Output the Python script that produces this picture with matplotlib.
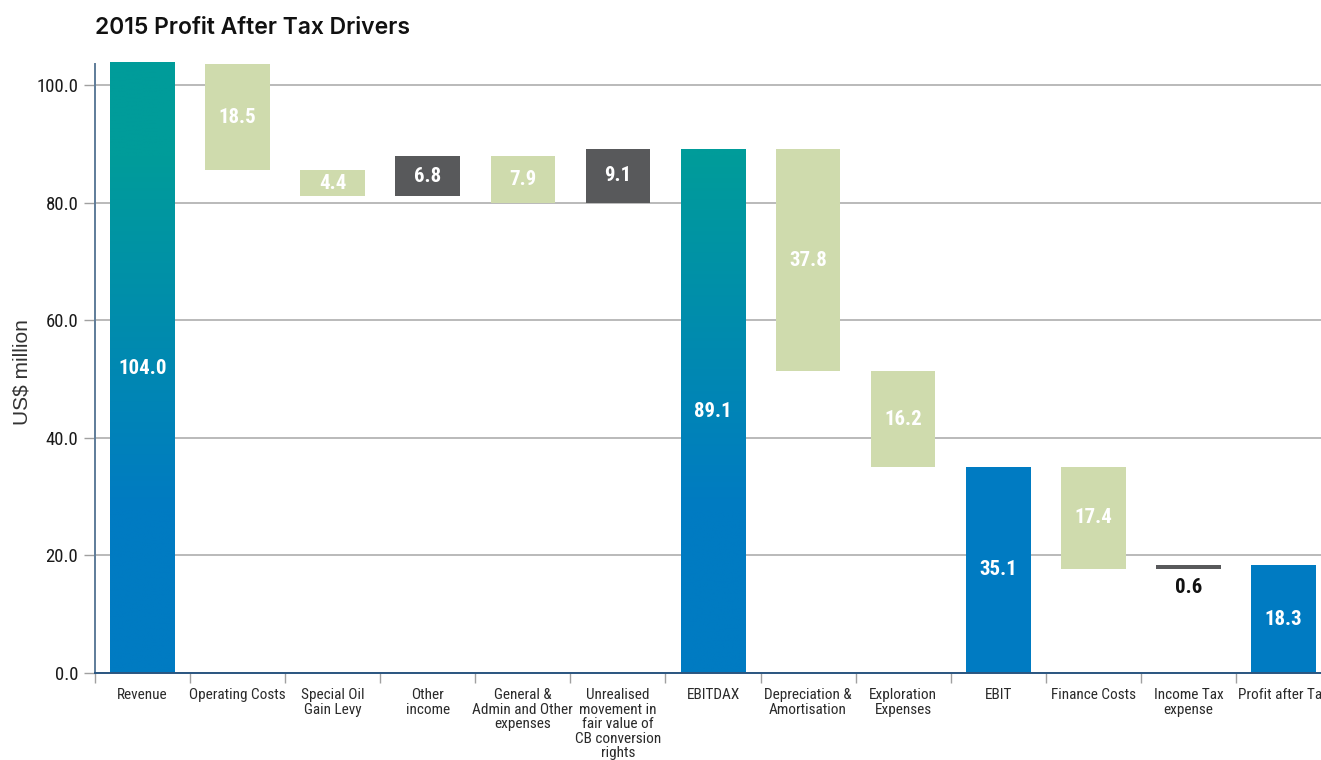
import matplotlib
matplotlib.use("Agg")
import matplotlib.pyplot as plt
import numpy as np
from matplotlib import font_manager
from matplotlib.patches import Rectangle
from matplotlib.ticker import FixedLocator, FuncFormatter

# ---- data ----
categories = ["Revenue", "Operating Costs", "Special Oil\nGain Levy", "Other\nincome",
              "General &\nAdmin and Other\nexpenses",
              "Unrealised\nmovement in\nfair value of\nCB conversion\nrights",
              "EBITDAX", "Depreciation &\nAmortisation", "Exploration\nExpenses", "EBIT",
              "Finance Costs", "Income Tax\nexpense", "Profit after Tax"]
values = [104.0, -18.5, -4.4, 6.8, -7.9, 9.1, 89.1, -37.8, -16.2, 35.1, -17.4, 0.6, 18.3]
kinds = ["total", "change", "change", "change", "change", "change", "total",
         "change", "change", "total", "change", "change", "total"]
gradient_bars = ["Revenue", "EBITDAX"]
yticks = [0, 20, 40, 60, 80, 100]

ents = {}
for f in font_manager.fontManager.ttflist:
    ents.setdefault(f.name, set()).add((f.style, f.weight))


def pick(cands, weights=(400, 700)):
    for c in cands:
        if c in ents:
            ws = {w for s, w in ents[c] if s == "normal"}
            if all(w in ws for w in weights):
                return c
    for c in cands:
        if c in ents:
            return c
    return "DejaVu Sans"


narrow = pick(["Roboto Condensed", "Archivo Narrow", "PT Sans Narrow",
               "IBM Plex Sans Condensed", "Liberation Sans Narrow", "Liberation Sans"])
title_font = pick(["Montserrat", "Inter", "Lato"], weights=(500,))
plain = pick(["Liberation Sans", "Arimo", "DejaVu Sans"])

TEAL = np.array([0x00, 0x9C, 0x9A]) / 255
BLUE = np.array([0x00, 0x7B, 0xC2]) / 255
GREEN = "#CFDBAD"
GRAY = "#58595B"

fig = plt.figure(figsize=(13.21, 7.6), dpi=100)
ax = fig.add_axes([95 / 1321, 1 - 673 / 760, 1236 / 1321, (673 - 64) / 760])
YMAX = 103.6
ax.set_xlim(-0.5, len(categories) - 0.5)
ax.set_ylim(0, YMAX)

width = 0.68
running = 0.0
for i, (cat, v, k) in enumerate(zip(categories, values, kinds)):
    if k == "total":
        bottom, height = 0.0, v
        running = v
        color = tuple(BLUE)
    else:
        bottom = min(running, running + v)
        height = abs(v)
        running += v
        color = GRAY if v > 0 else GREEN
    rect = Rectangle((i - width / 2, bottom), width, height, facecolor=color,
                     edgecolor="none", zorder=3)
    ax.add_patch(rect)
    if cat in gradient_bars:
        ys = np.linspace(0, height, 300)
        t = np.clip((ys - 28) / (88 - 28), 0, 1)[:, None]
        img = (BLUE[None, :] * (1 - t) + TEAL[None, :] * t)[:, None, :]
        im = ax.imshow(img, extent=(i - width / 2, i + width / 2, 0, height),
                       origin="lower", aspect="auto", zorder=3.1, interpolation="bilinear")
        im.set_clip_path(rect)
    top = bottom + height
    if height >= 2:
        yc = (max(bottom, 0) + min(top, YMAX)) / 2
        ax.text(i, yc, f"{abs(v):.1f}", ha="center", va="center", color="white",
                fontsize=15, fontweight="bold", family=narrow, zorder=5)
    else:
        ax.text(i, bottom - 1.6, f"{abs(v):.1f}", ha="center", va="top", color="#111111",
                fontsize=15, fontweight="bold", family=narrow, zorder=5)

ax.set_xlim(-0.5, len(categories) - 0.5)
ax.set_ylim(0, YMAX)

# grid & ticks
ax.yaxis.set_major_locator(FixedLocator(yticks))
ax.yaxis.set_major_formatter(FuncFormatter(lambda y, p: f"{y:.1f}"))
ax.grid(axis="y", color="#B4B4B4", linewidth=1.3, zorder=0)
ax.set_axisbelow(True)
ax.tick_params(axis="y", length=8, width=1.0, color="#A0A0A0", labelsize=13.5, pad=4,
               labelcolor="#1a1a1a")
for lab in ax.get_yticklabels():
    lab.set_family(narrow)

ax.set_xticks(range(len(categories)))
ax.set_xticklabels(categories, fontsize=11, family=narrow, color="#2a2a2a",
                   linespacing=1.05, va="top")
ax.tick_params(axis="x", which="major", length=0, pad=11)
ax.set_xticks(np.arange(-0.5, len(categories) - 0.5, 1.0), minor=True)
ax.tick_params(axis="x", which="minor", length=7, width=1.0, color="#A0A0A0")

for s in ["top", "right"]:
    ax.spines[s].set_visible(False)
ax.spines["left"].set_color("#5E7C99")
ax.spines["left"].set_linewidth(1.4)
ax.spines["bottom"].set_color("#2A5580")
ax.spines["bottom"].set_linewidth(1.4)
ax.spines["left"].set_zorder(6)
ax.spines["bottom"].set_zorder(6)

fig.text(22 / 1321, 1 - 372 / 760, "US$ million", rotation=90, ha="center", va="center",
         fontsize=15, family=plain, color="#333333")
fig.text(95 / 1321, 1 - 28 / 760, "2015 Profit After Tax Drivers", ha="left", va="center",
         fontsize=16.5, fontweight="semibold", family=title_font, color="#111111")

fig.savefig("out.png", dpi=100)
